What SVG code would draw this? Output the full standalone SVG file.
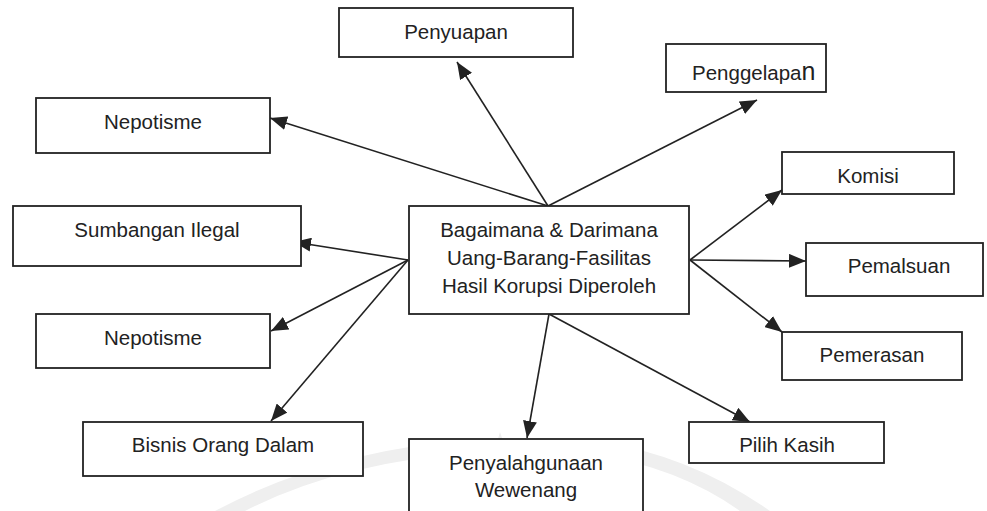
<svg xmlns="http://www.w3.org/2000/svg" width="987" height="511" viewBox="0 0 987 511">
<style>
.box{fill:#fff;stroke:#222;stroke-width:1.8}
.lbl{font-family:"Liberation Sans",Arial,sans-serif;font-size:20.5px;fill:#222;text-anchor:middle}
.con{stroke:#222;stroke-width:1.6;fill:none;marker-end:url(#ah)}
.wm{fill:#efefef;stroke:none}
</style>
<defs>
<marker id="ah" markerUnits="userSpaceOnUse" markerWidth="18" markerHeight="14" refX="17" refY="7" orient="auto">
<path d="M0,0 L17,7 L0,14 z" fill="#222"/>
</marker>
</defs>
<rect width="987" height="511" fill="#fff"/>
<g id="watermark">
<path class="wm" d="M215,511 Q330,450 470,440 L478,452 Q340,462 245,511 Z"/>
<path class="wm" d="M770,511 Q690,455 600,442 L594,454 Q680,468 740,511 Z"/>
<path class="wm" d="M470,511 Q490,470 500,432 Q512,470 535,511 Z"/>
</g>
<g id="connectors">
<line class="con" x1="548" y1="206" x2="457" y2="62"/>
<line class="con" x1="548" y1="206" x2="270" y2="118"/>
<line class="con" x1="548" y1="206" x2="757" y2="100"/>
<line class="con" x1="408" y1="260" x2="294" y2="242"/>
<line class="con" x1="408" y1="260" x2="271" y2="331"/>
<line class="con" x1="408" y1="260" x2="271" y2="421"/>
<line class="con" x1="690" y1="260" x2="782" y2="190"/>
<line class="con" x1="690" y1="260" x2="806" y2="261"/>
<line class="con" x1="690" y1="260" x2="782" y2="332"/>
<line class="con" x1="549" y1="314" x2="527" y2="438"/>
<line class="con" x1="549" y1="314" x2="750" y2="422"/>
</g>
<g id="center">
<rect class="box" x="409" y="206" width="280" height="108"/>
<text class="lbl" x="549" y="237">Bagaimana &amp; Darimana</text>
<text class="lbl" x="549" y="265">Uang-Barang-Fasilitas</text>
<text class="lbl" x="549" y="293">Hasil Korupsi Diperoleh</text>
</g>
<g id="penyuapan">
<rect class="box" x="339" y="8" width="234" height="49"/>
<text class="lbl" x="456" y="39">Penyuapan</text>
</g>
<g id="penggelapan">
<rect class="box" x="666" y="44" width="160" height="48"/>
<text class="lbl" x="692" y="80" style="text-anchor:start">Penggelapa<tspan style="font-size:25px">n</tspan></text>
</g>
<g id="nepotisme1">
<rect class="box" x="36" y="98" width="234" height="55"/>
<text class="lbl" x="153" y="129">Nepotisme</text>
</g>
<g id="sumbangan">
<rect class="box" x="13" y="206" width="288" height="60"/>
<text class="lbl" x="157" y="237">Sumbangan Ilegal</text>
</g>
<g id="nepotisme2">
<rect class="box" x="36" y="314" width="234" height="54"/>
<text class="lbl" x="153" y="345">Nepotisme</text>
</g>
<g id="bisnis">
<rect class="box" x="83" y="422" width="280" height="54"/>
<text class="lbl" x="223" y="452">Bisnis Orang Dalam</text>
</g>
<g id="penyalahgunaan">
<rect class="box" x="409" y="439" width="234" height="80"/>
<text class="lbl" x="526" y="470">Penyalahgunaan</text>
<text class="lbl" x="526" y="497">Wewenang</text>
</g>
<g id="pilihkasih">
<rect class="box" x="689" y="422" width="195" height="41"/>
<text class="lbl" x="787" y="452">Pilih Kasih</text>
</g>
<g id="komisi">
<rect class="box" x="782" y="152" width="172" height="42"/>
<text class="lbl" x="868" y="183">Komisi</text>
</g>
<g id="pemalsuan">
<rect class="box" x="806" y="243" width="177" height="53"/>
<text class="lbl" x="899" y="273">Pemalsuan</text>
</g>
<g id="pemerasan">
<rect class="box" x="782" y="332" width="180" height="48"/>
<text class="lbl" x="872" y="362">Pemerasan</text>
</g>
</svg>
